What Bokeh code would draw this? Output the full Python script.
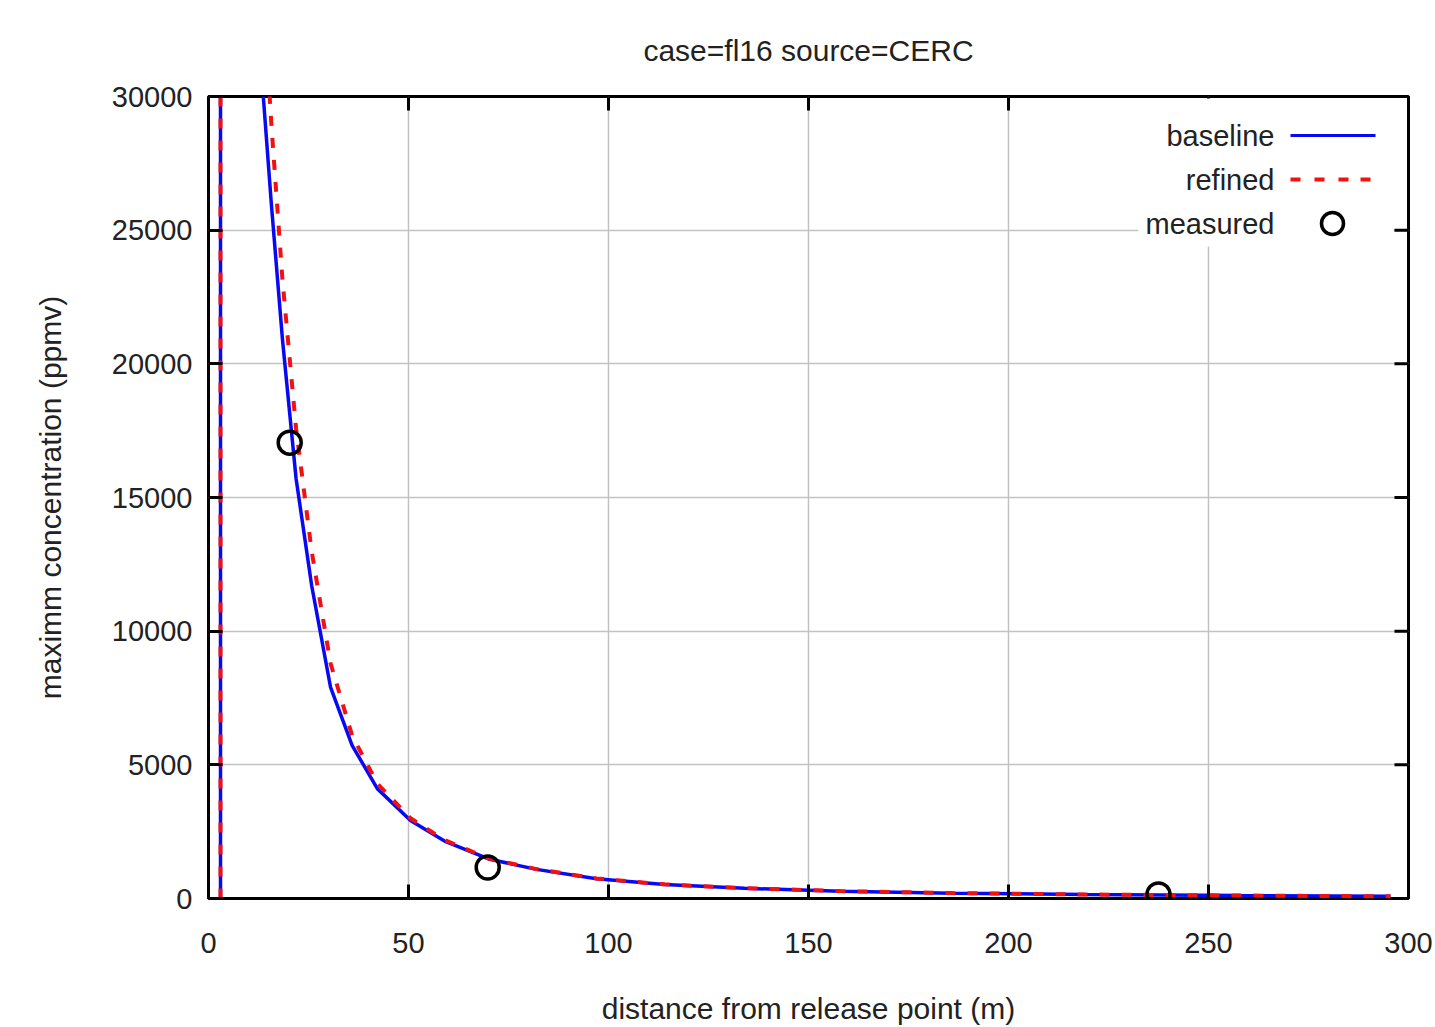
from bokeh.plotting import figure
from bokeh.models import Range1d, FixedTicker, Label, BoxAnnotation
from bokeh.embed import file_html
from bokeh.resources import INLINE

# ---------------- data ----------------
dist_baseline = [3.0, 3.0, 13.3, 15.7, 18.5, 21.9, 25.8, 30.5, 35.9, 42.2, 50.5, 59.0,
                 70.0, 82.0, 97.0, 114.0, 134.0, 158.0, 186.0, 219.0, 258.0, 295.5]
conc_baseline = [0, 120000, 30800, 26000, 20900, 15700, 11700, 7910, 5730, 4110, 2920, 2150,
                 1480, 1090, 740, 520, 380, 275, 200, 150, 110, 80]

dist_refined = [3.0, 3.0, 13.3, 15.7, 18.5, 21.9, 25.8, 30.5, 35.9, 42.2, 50.5, 59.0,
                70.0, 82.0, 97.0, 114.0, 134.0, 158.0, 186.0, 219.0, 258.0, 295.5]
conc_refined = [0, 150000, 34800, 29000, 23130, 17570, 12980, 8800, 6100, 4300, 3000, 2190,
                1500, 1100, 750, 530, 385, 278, 202, 151, 111, 80]

dist_measured = [20.3, 69.8, 237.5]
conc_measured = [17050, 1160, 150]

x_ticks = [0, 50, 100, 150, 200, 250, 300]
y_ticks = [0, 5000, 10000, 15000, 20000, 25000, 30000]

title_text = "case=fl16 source=CERC"
x_label = "distance from release point (m)"
y_label = "maximm concentration (ppmv)"
legend_labels = ["baseline", "refined", "measured"]

FONT = "Liberation Sans"
TXT = "#222222"
BLUE = "#0808f2"
RED = "#f21010"

FRAME_W = 1200
FRAME_H = 802
TICK = 14

p = figure(width=1435, height=1027, output_backend="svg", toolbar_location=None,
           x_range=Range1d(0, 300), y_range=Range1d(0, 30000),
           min_border_left=208, min_border_right=27, min_border_top=96,
           min_border_bottom=129, title=title_text)

p.title.align = "center"
p.title.text_font = FONT
p.title.text_font_size = "30px"
p.title.text_font_style = "normal"
p.title.text_color = TXT
p.title.standoff = 60

p.outline_line_color = "black"
p.outline_line_width = 3
p.outline_line_alpha = 1
p.background_fill_color = "white"
p.border_fill_color = "white"

xt = FixedTicker(ticks=x_ticks)
yt = FixedTicker(ticks=y_ticks)

xa = p.below[0]
ya = p.left[0]
xa.ticker = xt
ya.ticker = yt

for ax in (xa, ya):
    ax.axis_line_color = None
    ax.major_tick_in = TICK
    ax.major_tick_out = 0
    ax.major_tick_line_width = 3
    ax.major_tick_line_color = "black"
    ax.minor_tick_line_color = None
    ax.major_label_text_font = FONT
    ax.major_label_text_font_size = "29px"
    ax.major_label_text_color = TXT
    ax.axis_label_text_font = FONT
    ax.axis_label_text_font_size = "30px"
    ax.axis_label_text_font_style = "normal"
    ax.axis_label_text_color = TXT

xa.axis_label = x_label
ya.axis_label = y_label
xa.major_label_standoff = 34
xa.axis_label_standoff = 36
ya.major_label_standoff = 16
ya.axis_label_standoff = 42
xa.major_label_overrides = {t: str(t) for t in x_ticks}
ya.major_label_overrides = {t: str(t) for t in y_ticks}

p.xgrid.ticker = xt
p.ygrid.ticker = yt
p.grid.grid_line_color = "#c2c2c2"
p.grid.grid_line_width = 1.5

# mirrored ticks on top and right edges (gnuplot style)
for t in x_ticks[1:-1]:
    p.add_layout(BoxAnnotation(left=t, right=t, left_units="data", right_units="data",
                               top=FRAME_H, bottom=FRAME_H - TICK,
                               top_units="screen", bottom_units="screen",
                               fill_color=None, fill_alpha=0, line_color="black",
                               line_width=3, line_alpha=1, level="underlay"))
for t in y_ticks[1:-1]:
    p.add_layout(BoxAnnotation(bottom=t, top=t, bottom_units="data", top_units="data",
                               left=FRAME_W - TICK, right=FRAME_W,
                               left_units="screen", right_units="screen",
                               fill_color=None, fill_alpha=0, line_color="black",
                               line_width=3, line_alpha=1, level="underlay"))

# ---------------- data marks ----------------
p.line(dist_baseline, conc_baseline, line_color=BLUE, line_width=3.5)
p.line(dist_refined, conc_refined, line_color=RED, line_width=4, line_dash="10 12")
p.scatter(dist_measured, conc_measured, marker="circle", size=23, fill_color=None,
          line_color="black", line_width=3.5)

# ---------------- legend (gnuplot style: text left, sample right) ----------------
p.add_layout(BoxAnnotation(left=930, right=1185, bottom=652, top=800,
                           left_units="screen", right_units="screen",
                           bottom_units="screen", top_units="screen",
                           fill_color="white", fill_alpha=1, line_color=None))
for lab, yc in zip(legend_labels, [763, 719, 675]):
    p.add_layout(Label(x=1066, y=yc, x_units="screen", y_units="screen", text=lab,
                       text_align="right", text_baseline="middle", text_font=FONT,
                       text_font_size="29px", text_color=TXT))
p.add_layout(BoxAnnotation(left=1082, right=1167, bottom=761.5, top=764.5,
                           left_units="screen", right_units="screen",
                           bottom_units="screen", top_units="screen",
                           fill_color=BLUE, fill_alpha=1, line_color=None))
for x0 in [1082, 1106, 1130, 1152]:
    p.add_layout(BoxAnnotation(left=x0, right=x0 + 10, bottom=717, top=721,
                               left_units="screen", right_units="screen",
                               bottom_units="screen", top_units="screen",
                               fill_color=RED, fill_alpha=1, line_color=None))
p.add_layout(BoxAnnotation(left=1113, right=1135, bottom=664, top=686,
                           left_units="screen", right_units="screen",
                           bottom_units="screen", top_units="screen",
                           border_radius=11, fill_color=None, fill_alpha=0,
                           line_color="black", line_width=3.5, line_alpha=1))

open("out.html", "w").write(file_html(p, INLINE))
